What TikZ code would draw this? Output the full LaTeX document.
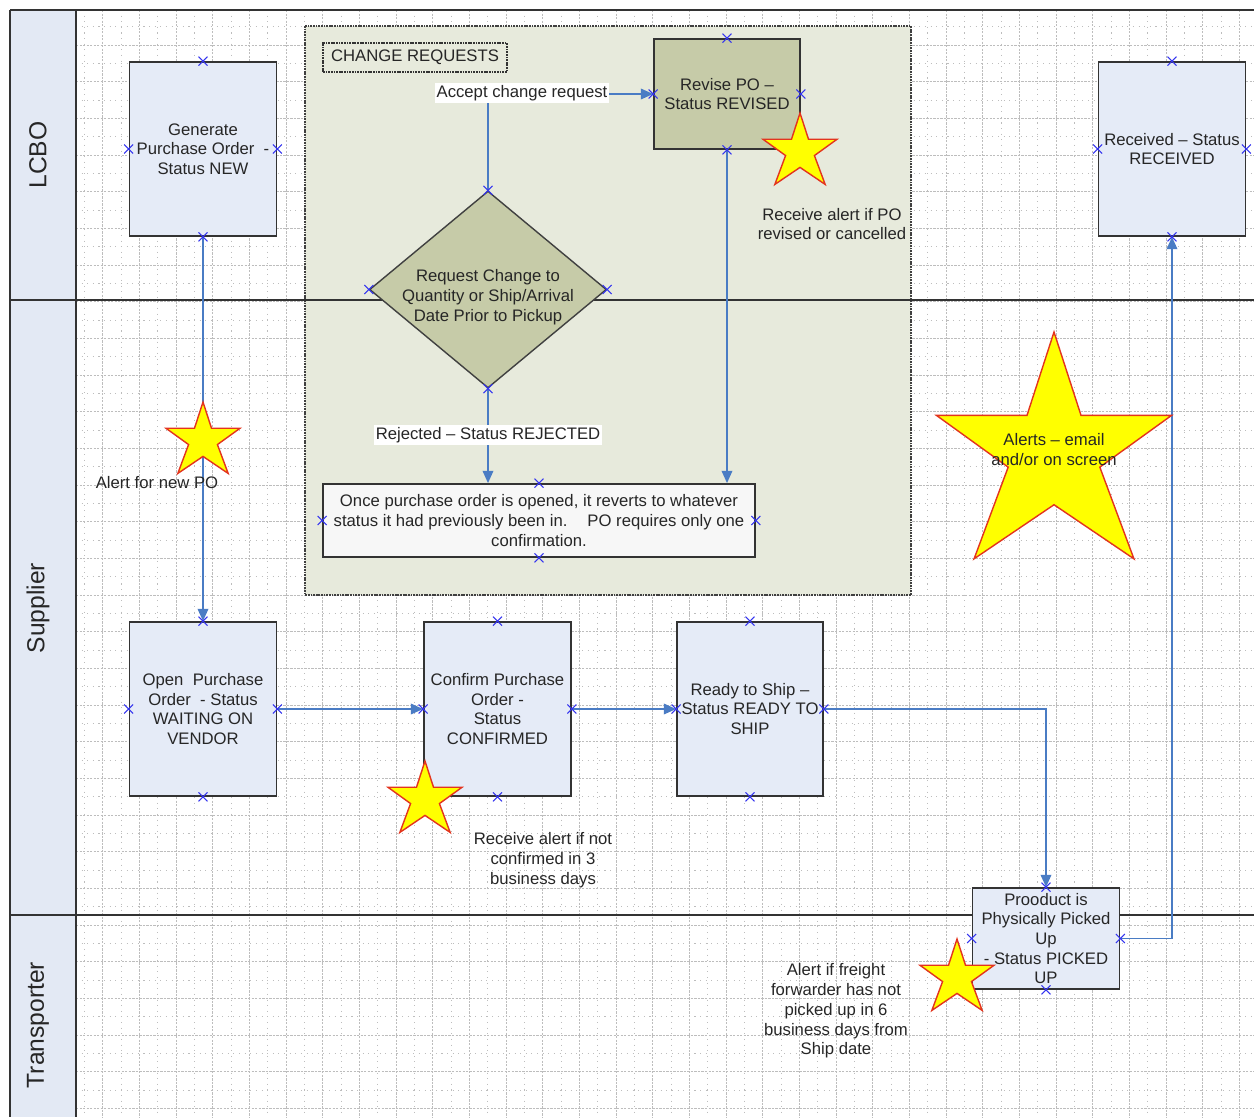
\documentclass[tikz,border=0pt]{standalone}
\usepackage{fontspec}
\setmainfont{Liberation Sans}
\usepackage{tikz}
\usetikzlibrary{shapes,arrows.meta,positioning}

\definecolor{laneblue}{HTML}{E3E9F4}
\definecolor{boxblue}{HTML}{E5EBF7}
\definecolor{olive}{HTML}{C6CBA8}
\definecolor{regiongray}{HTML}{E7EADC}
\definecolor{flowblue}{HTML}{4A7CC4}
\definecolor{ptblue}{HTML}{3434F0}
\definecolor{txtgray}{HTML}{262626}
\definecolor{starred}{HTML}{E3341E}
\definecolor{staryellow}{HTML}{FFFF00}

\tikzset{alertstar/.pic={
  \draw[starline] (0,0) -- (-0.23,0.71) -- (-1,0.71) -- (-0.39,1.15) -- (-0.68,1.93)
    -- (0,1.47) -- (0.68,1.93) -- (0.39,1.15) -- (1,0.71) -- (0.23,0.71) -- cycle;
}}

\begin{document}
\begin{tikzpicture}[x=0.02cm, y=-0.02cm,
                    font=\fontsize{9.5}{11.2}\selectfont, text=txtgray,
                    lane/.style={draw=black!80, line width=0.9pt},
                    lanelbl/.style={rotate=90, font=\fontsize{14}{16}\selectfont},
                    majgrid/.style={draw=black!26, line width=0.5pt, dash pattern=on 1.3pt off 0.7pt},
                    mingrid/.style={draw=black!26, line width=0.5pt, dash pattern=on 0.6pt off 2.6pt},
                    region/.style={draw=black!75, fill=regiongray, line width=0.6pt, dash pattern=on 1pt off 0.5pt},
                    box/.style={draw=black!80, line width=1pt, fill=boxblue, inner sep=0pt, align=center},
                    tallbox/.style={box, minimum width=2.94cm, minimum height=3.48cm},
                    flow/.style={draw=flowblue, line width=1pt, -{Triangle[length=7pt,width=6pt]}},
                    cpt/.style={cross out, draw=ptblue, line width=0.6pt, minimum size=4.5pt, inner sep=0pt},
                    starline/.style={draw=starred, fill=staryellow, line width=0.8pt, line join=miter},
                    note/.style={align=center, inner sep=1pt},
                    edgelbl/.style={fill=white, inner sep=1pt},
                   ]

\useasboundingbox (0,0) rectangle (1254,1117);
\fill[white] (0,0) rectangle (1254,1117);

% lanes and grid
\fill[laneblue] (10,10) rectangle (76,1117);
\foreach \k in {1,...,32}
  \draw[mingrid] ({47.67+36.67*\k},10) -- ({47.67+36.67*\k},1117);
\foreach \k in {0,...,29}
  \draw[mingrid] (76,{26.67+36.67*\k}) -- (1254,{26.67+36.67*\k});
\foreach \k in {2,...,33}
  \draw[majgrid] ({29.33+36.67*\k},10) -- ({29.33+36.67*\k},1117);
\foreach \k in {1,...,30}
  \draw[majgrid] (76,{8.33+36.67*\k}) -- (1254,{8.33+36.67*\k});

\draw[region] (305,26) rectangle (911,595);

\draw[lane] (10,10) -- (1254,10);
\draw[lane] (10,10) -- (10,1117);
\draw[lane] (76,10) -- (76,1117);
\draw[lane] (10,300) -- (1254,300);
\draw[lane] (10,915) -- (1254,915);

\node[lanelbl] (lcbo) at (38,155) {LCBO};
\node[lanelbl] (supplier) at (38,608) {Supplier};
\node[lanelbl] (transporter) at (38,1025) {Transporter};

\node[draw=black!80, dash pattern=on 1pt off 0.5pt, line width=0.6pt, minimum width=3.68cm, minimum height=0.58cm, inner sep=0pt] (chg) at (415,57.5) {CHANGE REQUESTS};

% process shapes
\node[tallbox] (gen) at (203,149) {Generate\\Purchase Order~ -\\Status NEW};
\node[box, fill=olive, minimum width=2.92cm, minimum height=2.2cm] (rev) at (727,94) {Revise PO –\\Status REVISED};
\node[tallbox] (rcv) at (1172,149) {Received – Status\\RECEIVED};
\node[diamond, draw=black!75, line width=0.8pt, fill=olive, minimum width=4.74cm, minimum height=3.94cm, inner sep=0pt] (dia) at (488,289.5) {};
\node[align=center] (diatxt) at (488,297) {Request Change to\\Quantity or Ship/Arrival\\Date Prior to Pickup};
\node[box, fill=white!97!black, minimum width=8.64cm, minimum height=1.46cm] (note) at (539,520.5) {Once purchase order is opened, it reverts to whatever\\status it had previously been in.\hspace{1.2em}PO requires only one\\confirmation.};
\node[tallbox] (opn) at (203,709) {Open~ Purchase\\Order~ - Status\\WAITING ON\\VENDOR};
\node[tallbox] (cnf) at (497.5,709) {Confirm Purchase\\Order -\\Status\\CONFIRMED};
\node[tallbox, minimum width=2.92cm] (rdy) at (750,709) {Ready to Ship –\\Status READY TO\\SHIP};
\node[box, minimum width=2.94cm, minimum height=2.02cm] (prd) at (1046,938.5) {Prooduct is\\Physically Picked\\Up\\- Status PICKED\\UP};

% connectors
\draw[flow] (gen.south) -- (opn.north);
\draw[flow] (opn.east) -- (cnf.west);
\draw[flow] (cnf.east) -- (rdy.west);
\draw[flow] (rdy.east) -| (prd.north);
\draw[flow] (prd.east) -| (rcv.south);
\draw[flow] (dia.north) |- (rev.west);
\draw[flow] (dia.south) -- (dia.south |- note.north);
\draw[flow] (rev.south) -- (rev.south |- note.north);

\node[edgelbl] (acc) at (522,93) {Accept change request};
\node[edgelbl] (rej) at (488,435) {Rejected – Status REJECTED};

% connection points
\foreach \n in {gen,rev,rcv,dia,note,opn,cnf,rdy,prd}
  \foreach \a in {north,south,east,west}
    \node[cpt] (\n-\a) at (\n.\a) {};

% alerts
\pic[scale=37] (starpo) at (203,402) {alertstar};
\pic[scale=37] (starrev) at (800,113) {alertstar};
\pic[scale=37] (starcnf) at (425,761) {alertstar};
\pic[scale=37] (starprd) at (957,939) {alertstar};
\pic[scale=117.5] (starbig) at (1054,332) {alertstar};

\node[note] (alertpo) at (157,483) {Alert for new PO};
\node[note] (alertrev) at (832,224) {Receive alert if PO\\revised or cancelled};
\node[note] (alertcnf) at (543,860) {Receive alert if not\\confirmed in 3\\business days};
\node[note] (alertprd) at (836,1011) {Alert if freight\\forwarder has not\\picked up in 6\\business days from\\Ship date};
\node[note] (alertbig) at (1054,449.5) {Alerts – email\\and/or on screen};

\end{tikzpicture}
\end{document}
